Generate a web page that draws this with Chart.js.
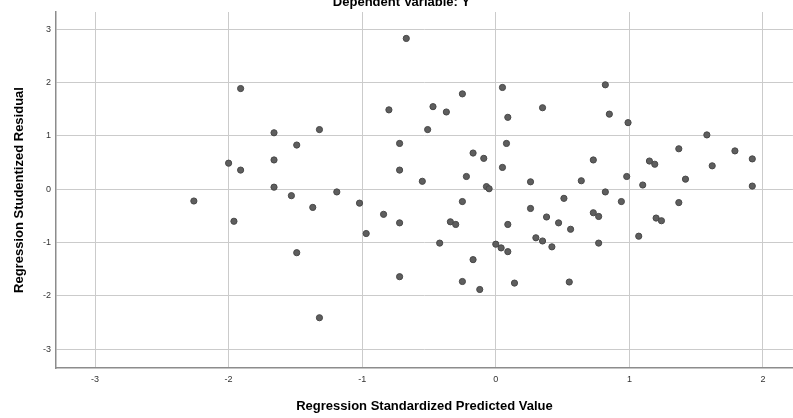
<!DOCTYPE html>
<html>
<head>
<meta charset="utf-8">
<script src="https://cdn.jsdelivr.net/npm/chart.js@4"></script>
<style>
  html, body { margin: 0; padding: 0; background: #fff; }
  #wrap { position: relative; width: 793px; height: 418px; overflow: hidden; }
  #wrap canvas { position: absolute; left: 0; top: -7px; }
</style>
</head>
<body>
<div id="wrap"><canvas id="scatter" width="797" height="425"></canvas></div>
<script>
// Значения
const predicted = [
  -2.26, -2.00, -1.91, -1.91, -1.96, -1.66, -1.66, -1.66, -1.53, -1.49,
  -1.37, -1.32, -1.19, -1.02, -1.49, -1.32, -0.97, -0.84, -0.72, -0.72,
  -0.67, 0.05, -0.25, -0.80, -0.47, -0.37, 0.09, -0.51, -0.72, 0.08,
  -0.17, -0.09, 0.05, -0.72, -0.22, -0.55, -0.07, -0.05, -0.25, -0.34,
  -0.30, 0.09, -0.42, 0.00, 0.04, 0.09, -0.17, -0.25, -0.12, 0.14,
  0.26, 0.30, 0.35, 0.38, 0.42, 0.47, 0.56, 0.55, 0.73, 0.77,
  0.77, 0.94, 1.07, 1.20, 1.24, 1.37, 0.82, 0.35, 0.85, 0.99,
  0.73, 0.26, 0.64, 0.98, 0.82, 0.51, 1.58, 1.37, 1.79, 1.92,
  1.15, 1.19, 1.62, 1.42, 1.10, 1.92
];
const residual = [
  -0.22, 0.49, 1.89, 0.36, -0.60, 1.06, 0.55, 0.04, -0.12, 0.83,
  -0.34, 1.12, -0.05, -0.26, -1.19, -2.41, -0.83, -0.47, -0.63, -1.64,
  2.83, 1.91, 1.79, 1.49, 1.55, 1.45, 1.35, 1.12, 0.86, 0.86,
  0.68, 0.58, 0.41, 0.36, 0.24, 0.15, 0.05, 0.01, -0.23, -0.61,
  -0.66, -0.66, -1.01, -1.03, -1.10, -1.17, -1.32, -1.73, -1.88, -1.76,
  -0.36, -0.91, -0.97, -0.52, -1.08, -0.63, -0.75, -1.74, -0.44, -0.51,
  -1.01, -0.23, -0.88, -0.54, -0.59, -0.25, 1.96, 1.53, 1.41, 1.25,
  0.55, 0.14, 0.16, 0.24, -0.05, -0.17, 1.02, 0.76, 0.72, 0.57,
  0.53, 0.47, 0.44, 0.19, 0.08, 0.06
];
const xTicks = [-3, -2, -1, 0, 1, 2];
const yTicks = [-3, -2, -1, 0, 1, 2, 3];

const chartTitle = 'Dependent Variable: Y';
const xTitle = 'Regression Standardized Predicted Value';
const yTitle = 'Regression Studentized Residual';

const FONT = "'Liberation Sans', Arial, sans-serif";

const points = predicted.map((x, i) => ({ x: x, y: residual[i] }));

new Chart('scatter', {
    type: 'scatter',
    data: {
        datasets: [{
            data: points,
            pointRadius: 3.1,
            pointHoverRadius: 3.1,
            backgroundColor: '#5e5e5e',
            borderColor: '#484848',
            borderWidth: 1
        }]
    },
    options: {
        responsive: false,
        animation: false,
        events: [],
        layout: { padding: { left: 6, right: 0, top: 0, bottom: 0 } },
        plugins: {
            legend: { display: false },
            tooltip: { enabled: false },
            title: {
                display: true,
                text: chartTitle,
                color: '#000',
                font: { family: FONT, size: 13, weight: 'bold' },
                padding: { top: 2, bottom: 1.4 }
            }
        },
        scales: {
            x: {
                type: 'linear',
                min: -3.292,
                max: 2.224,
                afterFit: scale => { scale.height = 50; },
                afterBuildTicks: scale => { scale.ticks = xTicks.map(v => ({ value: v })); },
                grid: { color: '#cbcbcb', lineWidth: 1, drawTicks: false },
                border: { color: '#8c8c8c', width: 1.5 },
                ticks: {
                    color: '#333',
                    font: { family: FONT, size: 9 },
                    padding: 6,
                    maxRotation: 0
                },
                title: {
                    display: true,
                    text: xTitle,
                    color: '#000',
                    font: { family: FONT, size: 13, weight: 'bold' },
                    padding: { top: 0, bottom: 4 }
                }
            },
            y: {
                type: 'linear',
                min: -3.353,
                max: 3.326,
                afterFit: scale => { scale.width = 50; },
                afterBuildTicks: scale => { scale.ticks = yTicks.map(v => ({ value: v })); },
                grid: { color: '#cbcbcb', lineWidth: 1, drawTicks: false },
                border: { color: '#8c8c8c', width: 1.5 },
                ticks: {
                    color: '#333',
                    font: { family: FONT, size: 9 },
                    padding: 5
                },
                title: {
                    display: true,
                    text: yTitle,
                    color: '#000',
                    font: { family: FONT, size: 13, weight: 'bold' },
                    padding: { top: 6, bottom: 0 }
                }
            }
        }
    }
});
</script>
</body>
</html>
